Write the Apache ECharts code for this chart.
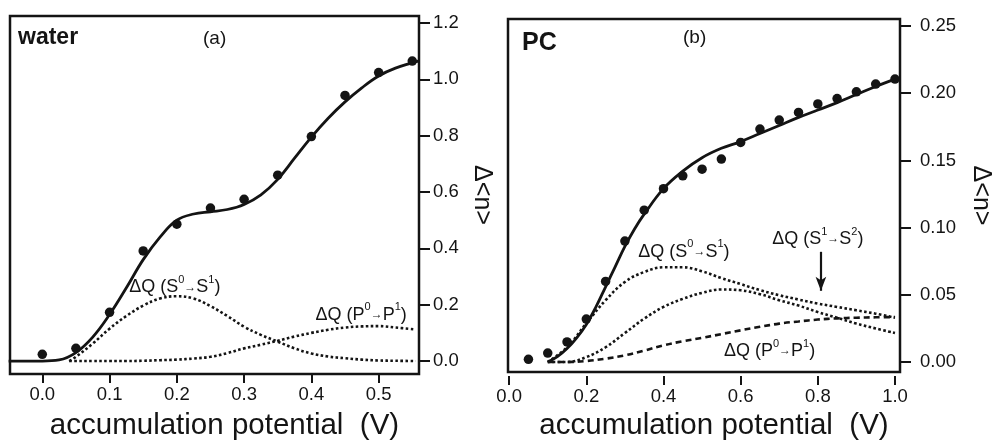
<!DOCTYPE html>
<html>
<head>
<meta charset="utf-8">
<script src="https://cdn.jsdelivr.net/npm/echarts@6/dist/echarts.min.js"></script>
<style>
  html, body { margin: 0; padding: 0; background: #fff; }
  #main { width: 993px; height: 441px; }
</style>
</head>
<body>
<div id="main"></div>
<script>
// (a) water - measured points
var waterV = [0.00, 0.05, 0.10, 0.15, 0.20, 0.25, 0.30, 0.35, 0.40, 0.45, 0.50, 0.55];
var waterDn = [0.024, 0.045, 0.173, 0.391, 0.486, 0.543, 0.574, 0.660, 0.797, 0.943, 1.024, 1.065];
// (a) fit curve
var waterFitV = [-0.05, 0.0, 0.025, 0.05, 0.075, 0.1, 0.125, 0.15, 0.175, 0.2, 0.225, 0.25, 0.275, 0.3, 0.325, 0.35, 0.375, 0.4, 0.425, 0.45, 0.475, 0.5, 0.525, 0.56];
var waterFit = [0, 0, 0.004, 0.03, 0.085, 0.165, 0.26, 0.36, 0.44, 0.5, 0.522, 0.53, 0.538, 0.556, 0.59, 0.645, 0.72, 0.795, 0.862, 0.92, 0.97, 1.012, 1.04, 1.066];
// (a) components
var waterCompV = [0.04, 0.05, 0.075, 0.1, 0.125, 0.15, 0.175, 0.2, 0.225, 0.25, 0.275, 0.3, 0.325, 0.35, 0.375, 0.4, 0.425, 0.45, 0.475, 0.5, 0.525, 0.555];
var waterS0S1 = [0, 0.015, 0.062, 0.115, 0.16, 0.197, 0.222, 0.23, 0.222, 0.195, 0.16, 0.122, 0.093, 0.069, 0.045, 0.027, 0.016, 0.01, 0.005, 0.002, 0.001, 0];
var waterP0P1 = [0, 0, 0, 0, 0, 0.001, 0.003, 0.005, 0.009, 0.015, 0.028, 0.045, 0.058, 0.072, 0.087, 0.1, 0.111, 0.119, 0.123, 0.124, 0.119, 0.112];

// (b) PC - measured points
var pcV = [0.05, 0.10, 0.15, 0.20, 0.25, 0.30, 0.35, 0.40, 0.45, 0.50, 0.55, 0.60, 0.65, 0.70, 0.75, 0.80, 0.85, 0.90, 0.95, 1.00];
var pcDn = [0.002, 0.0067, 0.015, 0.032, 0.060, 0.090, 0.113, 0.129, 0.1385, 0.1435, 0.151, 0.1634, 0.1733, 0.180, 0.1857, 0.192, 0.196, 0.201, 0.2068, 0.2105];
// (b) fit curve
var pcFitV = [0.1, 0.125, 0.15, 0.175, 0.2, 0.225, 0.25, 0.275, 0.3, 0.325, 0.35, 0.4, 0.45, 0.5, 0.55, 0.6, 0.65, 0.7, 0.75, 0.8, 0.85, 0.9, 0.95, 1.0];
var pcFit = [0, 0.004, 0.01, 0.018, 0.028, 0.041, 0.056, 0.071, 0.086, 0.099, 0.11, 0.129, 0.142, 0.152, 0.159, 0.164, 0.17, 0.176, 0.182, 0.1875, 0.193, 0.199, 0.205, 0.2105];
// (b) components
var pcCompV = [0.1, 0.15, 0.2, 0.25, 0.3, 0.35, 0.4, 0.45, 0.5, 0.55, 0.6, 0.65, 0.7, 0.75, 0.8, 0.85, 0.9, 0.95, 1.0];
var pcS0S1 = [0, 0.011, 0.0288, 0.046, 0.0596, 0.067, 0.0705, 0.0705, 0.0675, 0.0625, 0.058, 0.0535, 0.0497, 0.0465, 0.0435, 0.041, 0.0385, 0.036, 0.033];
var pcS1S2 = [0, 0, 0.0037, 0.011, 0.0216, 0.0323, 0.041, 0.047, 0.0515, 0.054, 0.0534, 0.0505, 0.046, 0.042, 0.0372, 0.033, 0.0286, 0.025, 0.0216];
var pcP0P1 = [0, 0, 0.0008, 0.0025, 0.005, 0.0085, 0.0124, 0.0155, 0.018, 0.0208, 0.0236, 0.0262, 0.0286, 0.0302, 0.0316, 0.0325, 0.033, 0.0333, 0.0335];

// tick values
var waterXTicks = [0, 0.1, 0.2, 0.3, 0.4, 0.5];
var waterYTicks = [0, 0.2, 0.4, 0.6, 0.8, 1.0, 1.2];
var pcXTicks = [0, 0.2, 0.4, 0.6, 0.8, 1.0];
var pcYTicks = [0, 0.05, 0.10, 0.15, 0.20, 0.25];

var FONT = 'Liberation Sans';
var INK = '#141414';

function zip(xs, ys) {
    return xs.map(function (x, i) { return [x, ys[i]]; });
}

function xAxisOf(grid, min, max, ticks, offset, gap) {
    return {
        type: 'value', gridIndex: grid, min: min, max: max, offset: offset,
        name: 'accumulation potential  (V)', nameLocation: 'middle', nameGap: gap,
        nameTextStyle: { fontFamily: FONT, fontSize: 29.5, color: INK, padding: [0, 0, 0, 20] },
        axisLine: { show: false, onZero: false },
        axisTick: { show: true, inside: false, length: 9, customValues: ticks, lineStyle: { color: INK, width: 2 } },
        axisLabel: {
            customValues: ticks, margin: 11, fontFamily: FONT, fontSize: 18.5, color: INK,
            formatter: function (v) { return v.toFixed(1); }
        },
        splitLine: { show: false }
    };
}

function yAxisOf(grid, min, max, ticks, digits, margin, gap) {
    return {
        type: 'value', gridIndex: grid, min: min, max: max, position: 'right',
        name: 'Δ<n>', nameLocation: 'middle', nameRotate: -90, nameGap: gap,
        nameTextStyle: { fontFamily: FONT, fontSize: 25, color: INK },
        axisLine: { show: false, onZero: false },
        axisTick: { show: true, inside: false, length: 11, customValues: ticks, lineStyle: { color: INK, width: 2 } },
        axisLabel: {
            customValues: ticks, margin: margin, fontFamily: FONT, fontSize: 18.5, color: INK,
            formatter: function (v) { return v.toFixed(digits); }
        },
        splitLine: { show: false }
    };
}

var rich = {
    n: { fontFamily: FONT, fontSize: 18, color: INK, lineHeight: 26 },
    s: { fontFamily: FONT, fontSize: 11, color: INK, lineHeight: 11, verticalAlign: 'top' },
    a: { fontFamily: FONT, fontSize: 12, color: INK, lineHeight: 26 }
};
function note(sym1, sup1, sym2, sup2) {
    return '{n|ΔQ (' + sym1 + '}{s|' + sup1 + '}{a|→}{n|' + sym2 + '}{s|' + sup2 + '}{n|)}';
}
function markAt(x, y, text) {
    return { coord: [x, y], label: { show: true, position: 'inside', formatter: text, rich: rich } };
}

function scatterSeries(idx, xs, ys) {
    return {
        type: 'scatter', xAxisIndex: idx, yAxisIndex: idx, data: zip(xs, ys),
        symbol: 'circle', symbolSize: 9.5, itemStyle: { color: INK, opacity: 1 }, z: 5
    };
}
function lineSeries(idx, xs, ys, type, width) {
    return {
        type: 'line', xAxisIndex: idx, yAxisIndex: idx, data: zip(xs, ys),
        smooth: 0.4, showSymbol: false, clip: true,
        lineStyle: { color: INK, width: width, type: type, cap: 'butt' }
    };
}

var DOT = [2.6, 2.4];
var chart = echarts.init(document.getElementById('main'), null, { renderer: 'canvas' });

var s0a = lineSeries(0, waterCompV, waterS0S1, DOT, 2.6);
s0a.markPoint = { symbol: 'circle', symbolSize: 0, silent: true, data: [markAt(0.197, 0.262, note('S', '0', 'S', '1'))] };
var p0a = lineSeries(0, waterCompV, waterP0P1, DOT, 2.6);
p0a.markPoint = { symbol: 'circle', symbolSize: 0, silent: true, data: [markAt(0.474, 0.164, note('P', '0', 'P', '1'))] };

var s0b = lineSeries(1, pcCompV, pcS0S1, DOT, 2.6);
s0b.markPoint = { symbol: 'circle', symbolSize: 0, silent: true, data: [markAt(0.453, 0.082, note('S', '0', 'S', '1'))] };
var s1b = lineSeries(1, pcCompV, pcS1S2, DOT, 2.6);
s1b.markPoint = { symbol: 'circle', symbolSize: 0, silent: true, data: [markAt(0.80, 0.0915, note('S', '1', 'S', '2'))] };
s1b.markLine = {
    silent: true, symbol: ['none', 'arrow'], symbolSize: [8, 14],
    label: { show: false },
    lineStyle: { color: INK, width: 2.2, type: 'solid' },
    data: [[{ coord: [0.808, 0.082] }, { coord: [0.808, 0.053] }]]
};
var p0b = lineSeries(1, pcCompV, pcP0P1, [6, 4], 2.6);
p0b.markPoint = { symbol: 'circle', symbolSize: 0, silent: true, data: [markAt(0.675, 0.0082, note('P', '0', 'P', '1'))] };

chart.setOption({
    animation: false,
    backgroundColor: '#fff',
    grid: [
        { left: 10, right: 574, top: 16, bottom: 67, outerBoundsMode: 'none', show: true, borderColor: INK, borderWidth: 2.5, backgroundColor: 'transparent' },
        { left: 508, right: 93, top: 19, bottom: 69, outerBoundsMode: 'none', show: true, borderColor: INK, borderWidth: 2.5, backgroundColor: 'transparent' }
    ],
    xAxis: [
        xAxisOf(0, -0.048, 0.56, waterXTicks, 0, 37),
        xAxisOf(1, -0.003, 1.013, pcXTicks, 4, 35)
    ],
    yAxis: [
        yAxisOf(0, -0.046, 1.225, waterYTicks, 1, 14, 50),
        yAxisOf(1, -0.0074, 0.2552, pcYTicks, 2, 20, 68)
    ],
    graphic: [
        { type: 'text', left: 18, top: 26, style: { text: 'water', fontFamily: FONT, fontSize: 23, fontWeight: 'bold', fill: INK } },
        { type: 'text', left: 203, top: 29, style: { text: '(a)', fontFamily: FONT, fontSize: 19, fill: INK } },
        { type: 'text', left: 522, top: 31, style: { text: 'PC', fontFamily: FONT, fontSize: 25, fontWeight: 'bold', fill: INK } },
        { type: 'text', left: 683, top: 28, style: { text: '(b)', fontFamily: FONT, fontSize: 19, fill: INK } }
    ],
    series: [
        lineSeries(0, waterFitV, waterFit, 'solid', 2.8),
        s0a, p0a,
        scatterSeries(0, waterV, waterDn),
        lineSeries(1, pcFitV, pcFit, 'solid', 2.8),
        s0b, s1b, p0b,
        scatterSeries(1, pcV, pcDn)
    ]
});
</script>
</body>
</html>
